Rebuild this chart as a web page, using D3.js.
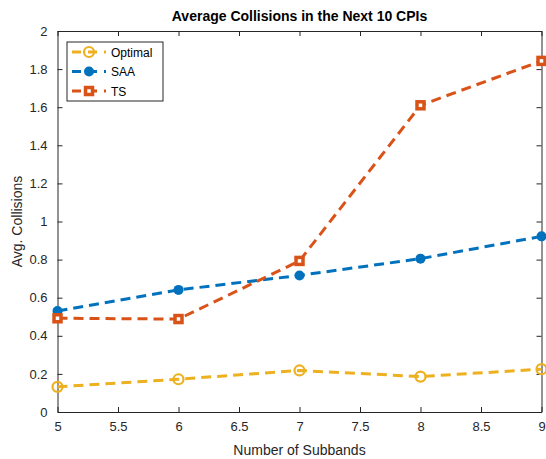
<!DOCTYPE html>
<html>
<head>
<meta charset="utf-8">
<script src="https://cdn.jsdelivr.net/npm/d3@7"></script>
<style>
body { margin: 0; background: #fff; }
text { font-family: "Liberation Sans", Arial, sans-serif; }
</style>
</head>
<body>
<div id="chart"></div>
<script>
// chart values
var subbands = [5, 6, 7, 8, 9];
var optimalVals = [0.132, 0.172, 0.218, 0.186, 0.225];
var saaVals = [0.53, 0.641, 0.717, 0.805, 0.922];
var tsVals = [0.492, 0.488, 0.793, 1.61, 1.843];
var seriesNames = ["Optimal", "SAA", "TS"];
var seriesColors = ["#EDB120", "#0072BD", "#D95319"];
var xTicks = [5, 5.5, 6, 6.5, 7, 7.5, 8, 8.5, 9];
var yTicks = [0, 0.2, 0.4, 0.6, 0.8, 1, 1.2, 1.4, 1.6, 1.8, 2];

var W = 546, H = 459;
var box = {left: 57.5, right: 541.5, top: 31, bottom: 412};
var axisColor = "#262626";

var svg = d3.select("#chart").append("svg")
	.attr("width", W).attr("height", H);

var x = d3.scaleLinear().domain([5, 9]).range([box.left, box.right]);
var y = d3.scaleLinear().domain([0, 2]).range([box.bottom, box.top]);

function fmt(v){ return String(+v.toFixed(1)); }

// axes (ticks inward, box on)
var gx = svg.append("g").attr("transform", "translate(0," + box.bottom + ")")
	.call(d3.axisBottom(x).tickValues(xTicks).tickSizeInner(-5).tickSizeOuter(0).tickPadding(10).tickFormat(fmt));
var gxTop = svg.append("g").attr("transform", "translate(0," + box.top + ")")
	.call(d3.axisTop(x).tickValues(xTicks).tickSizeInner(-5).tickSizeOuter(0).tickFormat(""));
var gy = svg.append("g").attr("transform", "translate(" + box.left + ",0)")
	.call(d3.axisLeft(y).tickValues(yTicks).tickSizeInner(-5).tickSizeOuter(0).tickPadding(10).tickFormat(fmt));
var gyRight = svg.append("g").attr("transform", "translate(" + box.right + ",0)")
	.call(d3.axisRight(y).tickValues(yTicks).tickSizeInner(-5).tickSizeOuter(0).tickFormat(""));

[gx, gxTop, gy, gyRight].forEach(function(g){
	g.selectAll("path.domain").attr("stroke", axisColor).attr("stroke-width", 1);
	g.selectAll(".tick line").attr("stroke", axisColor).attr("stroke-width", 1);
	g.selectAll(".tick text").attr("fill", axisColor).style("font-size", "13px");
});

// labels
svg.append("text").attr("x", (box.left + box.right) / 2).attr("y", 21)
	.attr("text-anchor", "middle").style("font-size", "14px").style("font-weight", "bold")
	.attr("fill", "#000").text("Average Collisions in the Next 10 CPIs");
svg.append("text").attr("x", (box.left + box.right) / 2).attr("y", 455)
	.attr("text-anchor", "middle").style("font-size", "14px").attr("fill", axisColor)
	.text("Number of Subbands");
svg.append("text").attr("transform", "translate(22," + ((box.top + box.bottom) / 2) + ") rotate(-90)")
	.attr("text-anchor", "middle").style("font-size", "14px").attr("fill", axisColor)
	.text("Avg. Collisions");

var series = [optimalVals, saaVals, tsVals].map(function(vals, i){
	return {
		name: seriesNames[i],
		color: seriesColors[i],
		points: subbands.map(function(s, j){ return {x: s, y: vals[j]}; })
	};
});

var line = d3.line().x(function(d){ return x(d.x); }).y(function(d){ return y(d.y); });

function drawMarker(g, idx, color){
	if (idx === 0) {
		g.append("circle").attr("r", 5).attr("fill", "none")
			.attr("stroke", color).attr("stroke-width", 2.2);
	} else if (idx === 1) {
		g.append("circle").attr("r", 5).attr("fill", color);
	} else {
		g.append("rect").attr("x", -3.5).attr("y", -3.5).attr("width", 7).attr("height", 7)
			.attr("fill", "#fff").attr("stroke", color).attr("stroke-width", 3.5);
	}
}

var dataLayer = svg.append("g");
series.forEach(function(s, i){
	dataLayer.append("path").datum(s.points)
		.attr("d", line).attr("fill", "none")
		.attr("stroke", s.color).attr("stroke-width", 3)
		.attr("stroke-dasharray", "10,6");
	s.points.forEach(function(p){
		var g = dataLayer.append("g").attr("transform", "translate(" + x(p.x) + "," + y(p.y) + ")");
		drawMarker(g, i, s.color);
	});
});

// legend
var lg = svg.append("g").attr("transform", "translate(67,42)");
lg.append("rect").attr("width", 96).attr("height", 59)
	.attr("fill", "#fff").attr("stroke", axisColor).attr("stroke-width", 1);
series.forEach(function(s, i){
	var row = lg.append("g").attr("transform", "translate(0," + (10 + i * 19.5) + ")");
	row.append("line").attr("x1", 5).attr("x2", 39).attr("y1", 0).attr("y2", 0)
		.attr("stroke", s.color).attr("stroke-width", 3).attr("stroke-dasharray", "9,7");
	drawMarker(row.append("g").attr("transform", "translate(22,0)"), i, s.color);
	row.append("text").attr("x", 44).attr("y", 4.5).style("font-size", "12px")
		.attr("fill", "#000").text(s.name);
});
</script>
</body>
</html>
